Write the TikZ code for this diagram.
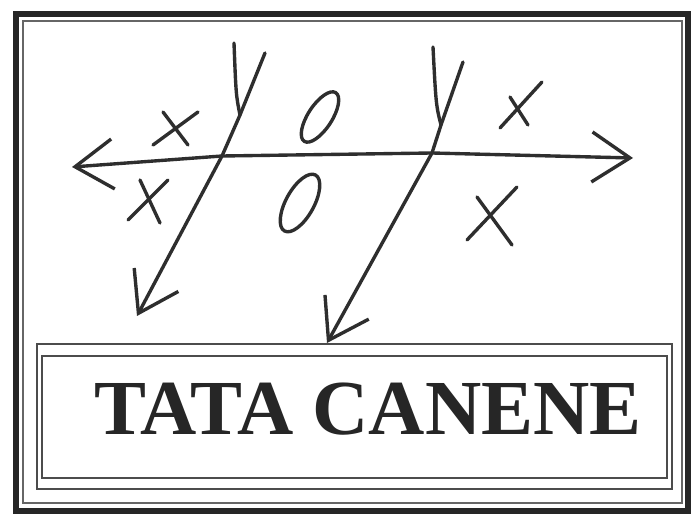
\documentclass[tikz,border=0pt]{standalone}
\usepackage{fontspec}
\setmainfont{Liberation Serif}
\usetikzlibrary{arrows.meta}

\begin{document}
\begin{tikzpicture}[x=0.025cm, y=-0.025cm,
  >={Straight Barb[length=9.5mm, width=12.5mm]},
  pen/.style={line width=2.4pt, draw=black!82, line cap=round, line join=round},
  rule/.style={draw=black!70, line width=1.3pt}]
  \useasboundingbox (0,0) rectangle (693,517);
  \fill[white] (0,0) rectangle (693,517);

  % frame
  \draw[black!85, line width=4.3pt] (16,14) rectangle (688,511);
  \draw[black!60, line width=1pt] (23,21) rectangle (682,503);

  % title box
  \draw[rule] (37,344) rectangle (672,489);
  \draw[rule] (42,356) rectangle (667,478);
  \node[font=\fontsize{55.4}{56}\selectfont\bfseries, text=black!85, anchor=base] (title) at (368,435) {TATA CANENE};

  % horizontal line
  \coordinate (hl) at (72,167);
  \coordinate (hr) at (633,158);
  \coordinate (c1) at (222,156);
  \coordinate (c2) at (432,153);
  \draw[pen, <->] (hl) -- (c1) -- (c2) -- (hr);

  % transversals
  \coordinate (t1top) at (265,53);
  \coordinate (t1bend) at (240,115);
  \coordinate (t1end) at (137,316);
  \draw[pen, ->] (t1top) -- (t1bend) -- (c1) -- (t1end);
  \draw[pen] (234,43) .. controls (236,95) .. (t1bend);

  \coordinate (t2top) at (463,62);
  \coordinate (t2bend) at (441,125);
  \coordinate (t2end) at (327,343);
  \draw[pen, ->] (t2top) -- (t2bend) -- (c2) -- (t2end);
  \draw[pen] (433,47) .. controls (436,105) .. (t2bend);

  % x marks
  \foreach \ax/\ay/\bx/\by in {153/145/198/112, 163/112/188/145,
      128/220/168/180, 140/180/160/223, 500/128/542/82, 510/97/528/125,
      467/240/517/187, 477/197/512/245}
    \draw[pen] (\ax,\ay) -- (\bx,\by);

  % o marks
  \draw[pen, rotate around={57:(320,117)}] (320,117) ellipse [x radius=29, y radius=12];
  \draw[pen, rotate around={61:(300,203)}] (300,203) ellipse [x radius=32, y radius=14];
\end{tikzpicture}
\end{document}
